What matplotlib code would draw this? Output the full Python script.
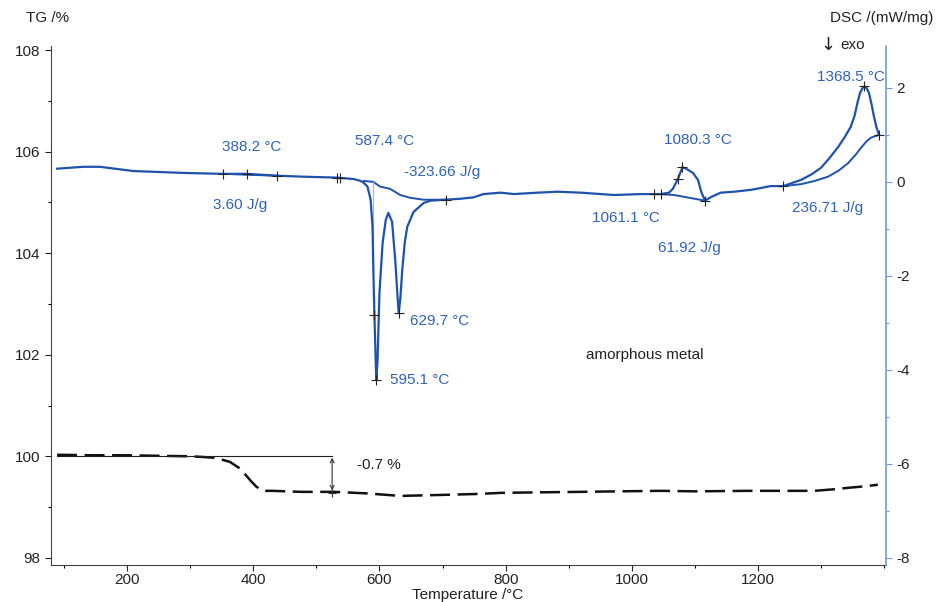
import matplotlib
matplotlib.use("Agg")
import matplotlib.pyplot as plt
from matplotlib.ticker import MultipleLocator

plt.rcParams['font.family'] = ['Liberation Sans', 'DejaVu Sans']
plt.rcParams['font.size'] = 11
plt.rcParams['axes.unicode_minus'] = False

# ---- data ----
dsc_T = [89, 130, 157, 210, 289, 352, 390, 438, 479, 533, 559, 570, 575, 581, 586, 589,
         590.5, 592, 594, 595.1, 597, 600, 605, 610, 614, 620, 625, 629, 630.5, 633, 636,
         640, 644, 654, 670, 681, 705, 728, 749, 765, 792, 813, 851, 882, 919, 951, 972,
         1014, 1035, 1046, 1059, 1065, 1073, 1080.3, 1086, 1097, 1105, 1110, 1116, 1126,
         1141, 1162, 1189, 1205, 1220, 1240, 1268, 1285, 1300, 1313, 1327, 1337, 1347,
         1353, 1358, 1362, 1366, 1368.5, 1372, 1376, 1380, 1384, 1388, 1392]
dsc_v = [0.28, 0.32, 0.32, 0.23, 0.19, 0.17, 0.17, 0.13, 0.11, 0.09, 0.06, 0.02, -0.02,
         -0.10, -0.38, -0.95, -2.0, -2.83, -3.79, -4.22, -3.79, -2.36, -1.30, -0.81, -0.66,
         -0.85, -1.66, -2.51, -2.79, -2.5, -1.9, -1.3, -0.96, -0.64, -0.45, -0.40, -0.38,
         -0.36, -0.33, -0.26, -0.23, -0.26, -0.23, -0.21, -0.23, -0.26, -0.28, -0.26, -0.26,
         -0.26, -0.23, -0.15, 0.06, 0.31, 0.28, 0.19, 0.04, -0.21, -0.40, -0.32, -0.23,
         -0.21, -0.17, -0.13, -0.09, -0.09, 0.04, 0.16, 0.30, 0.50, 0.74, 0.94, 1.17,
         1.40, 1.70, 1.90, 2.00, 2.03, 2.00, 1.89, 1.65, 1.38, 1.15, 1.00]

base1_T = [352, 438]
base1_v = [0.17, 0.13]
base2_T = [575, 590, 601, 617, 633, 649, 670, 705]
base2_v = [0.02, 0.0, -0.10, -0.15, -0.28, -0.34, -0.38, -0.38]
base3_T = [1046, 1067, 1116]
base3_v = [-0.26, -0.28, -0.40]
base4_T = [1240, 1268, 1290, 1311, 1328, 1343, 1355, 1363, 1372, 1379, 1392]
base4_v = [-0.09, -0.05, 0.02, 0.11, 0.24, 0.40, 0.58, 0.72, 0.86, 0.94, 1.00]

mark_T = [352, 390, 438, 533, 538, 592, 595.1, 630.5, 705, 1035, 1046, 1073, 1080.3,
          1116, 1240, 1368.5, 1392]
mark_v = [0.17, 0.17, 0.13, 0.09, 0.09, -2.83, -4.22, -2.79, -0.38, -0.26, -0.26, 0.06,
          0.31, -0.40, -0.09, 2.03, 1.00]

tg_T = [89, 150, 200, 250, 300, 316, 340, 363, 380, 395, 405, 416, 430, 475, 527, 580,
        633, 700, 760, 792, 850, 919, 980, 1046, 1100, 1184, 1250, 1289, 1320, 1343, 1370,
        1390]
tg_v = [100.03, 100.02, 100.02, 100.01, 100.0, 99.99, 99.97, 99.89, 99.75, 99.53, 99.40,
        99.32, 99.32, 99.30, 99.30, 99.27, 99.22, 99.24, 99.26, 99.28, 99.29, 99.30, 99.31,
        99.32, 99.31, 99.32, 99.32, 99.32, 99.35, 99.38, 99.41, 99.44]

labels = ["388.2 °C", "3.60 J/g", "587.4 °C", "-323.66 J/g", "629.7 °C", "595.1 °C",
          "1080.3 °C", "1061.1 °C", "61.92 J/g", "236.71 J/g", "1368.5 °C"]
label_T = [398, 379, 608, 700, 649, 617, 1105, 991, 1092, 1310, 1348]
label_v = [0.74, -0.49, 0.87, 0.21, -2.96, -4.21, 0.89, -0.77, -1.40, -0.55, 2.23]
label_ha = ['center', 'center', 'center', 'center', 'left', 'left', 'center', 'center',
            'center', 'center', 'center']

x_ticks = [200, 400, 600, 800, 1000, 1200]
tg_ticks = [98, 100, 102, 104, 106, 108]
dsc_ticks = [-8, -6, -4, -2, 0, 2]

LINE = '#1f52ad'
TEXT = '#2f62b8'
SPINE = '#6f9bd8'

fig = plt.figure(figsize=(9.38, 6.02), dpi=100)
ax = fig.add_axes([0.0544, 0.0615, 0.8902, 0.8621])
ax2 = ax.twinx()

# TG
ax.plot(tg_T, tg_v, color='#111111', lw=1.8, dashes=(8, 3))
ax.plot([89, 525], [100.0, 100.0], color='#222222', lw=0.8)
ax.annotate('', xy=(525, 99.3), xytext=(525, 100.0),
            arrowprops=dict(arrowstyle='<->', lw=0.8, color='#333333',
                            shrinkA=1, shrinkB=1, mutation_scale=7))
ax.plot([525], [99.27], marker='+', color='#333333', ms=6, mew=0.8)
ax.text(565, 99.82, "-0.7 %", fontsize=11, color='#222222', ha='left', va='center')

ax.set_xlim(79.4, 1403)
ax.set_ylim(97.86, 108.08)
ax.set_xticks(x_ticks)
ax.xaxis.set_minor_locator(MultipleLocator(100))
ax.set_yticks(tg_ticks)
ax.yaxis.set_minor_locator(MultipleLocator(1))
ax.tick_params(axis='both', which='major', direction='out', length=4, width=0.8,
               labelsize=11, colors='#222222')
ax.tick_params(axis='x', which='major', pad=2)
ax.tick_params(axis='both', which='minor', direction='out', length=2, width=0.8)
for s in ['top', 'right']:
    ax.spines[s].set_visible(False)
ax.spines['left'].set_color('#444444')
ax.spines['bottom'].set_color('#444444')

# DSC
ax2.plot(base1_T, base1_v, color=LINE, lw=1.4)
ax2.plot(base2_T, base2_v, color=LINE, lw=1.4)
ax2.plot(base3_T, base3_v, color=LINE, lw=1.4)
ax2.plot(base4_T, base4_v, color=LINE, lw=1.4)
ax2.plot([589, 589], [0.0, -1.9], color='#9bb8e0', lw=0.9)
ax2.plot(dsc_T, dsc_v, color=LINE, lw=1.6)
ax2.plot(mark_T, mark_v, linestyle='none', marker='+', color='#222222', ms=7, mew=0.8)
for t, x, y, ha in zip(labels, label_T, label_v, label_ha):
    ax2.text(x, y, t, color=TEXT, fontsize=11, ha=ha, va='center')
ax2.text(1021, -3.68, "amorphous metal", color='#222222', fontsize=11,
         ha='center', va='center')

ax2.set_ylim(-8.15, 2.89)
ax2.set_yticks(dsc_ticks)
ax2.yaxis.set_minor_locator(MultipleLocator(1))
ax2.tick_params(axis='y', which='major', direction='out', length=4, width=0.8,
                labelsize=11, color=SPINE, labelcolor='#222222')
ax2.tick_params(axis='y', which='minor', direction='out', length=2, width=0.8,
                color=SPINE)
for s in ['top', 'left', 'bottom']:
    ax2.spines[s].set_visible(False)
ax2.spines['right'].set_color(SPINE)
ax2.spines['right'].set_linewidth(1.2)

fig.text(0.051, 0.970, "TG /%", fontsize=11, ha='center', va='center', color='#222222')
fig.text(0.940, 0.970, "DSC /(mW/mg)", fontsize=11, ha='center', va='center',
         color='#222222')
fig.text(0.883, 0.926, "↓", fontsize=13, ha='center', va='center', color='#222222',
         family=['DejaVu Sans'])
fig.text(0.896, 0.925, "exo", fontsize=11, ha='left', va='center', color='#222222')
fig.text(0.499, 0.012, "Temperature /°C", fontsize=11, ha='center', va='center',
         color='#222222')

fig.savefig("out.png", dpi=100)
